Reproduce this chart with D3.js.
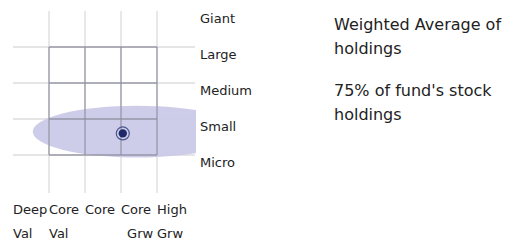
<!DOCTYPE html>
<html><head><meta charset="utf-8">
<script src="https://cdn.jsdelivr.net/npm/d3@7"></script>
<style>body{margin:0;background:#fff;} svg{display:block;}</style>
</head><body><div id="chart"></div>
<script>
// Data
const sizeLabels = ["Giant","Large","Medium","Small","Micro"];
const styleTopLabels = ["Deep","Core","Core","Core","High"];
const styleBottomLabels = ["Val","Val","","Grw","Grw"];
const styleBottomOffset = [0,0,0,0.17,0];   // column offsets of the wrapped words
const weightedAvg = {style: 3.05, size: 3.4};       // grid units
const zone75 = {style: 3.45, size: 3.35, styleHalf: 2.9, sizeHalf: 0.72};
const legendTexts = [["Weighted Average of","holdings"],["75% of fund's stock","holdings"]];

const W = 517, H = 240;
const svg = d3.select("#chart").append("svg").attr("width", W).attr("height", H);
const font = "DejaVu Sans, Verdana, sans-serif";

const x = d3.scaleLinear().domain([0,5]).range([13,193]);
const y = d3.scaleLinear().domain([0,5]).range([11,191]);

svg.append("defs").append("clipPath").attr("id","clip")
  .append("rect").attr("x", x(0)).attr("y", y(0)).attr("width", x(5)-x(0)+3).attr("height", y(5)-y(0)+2);

// light grid lines
const g = svg.append("g");
[1,2,3,4].forEach(i=>{
  g.append("line").attr("x1",x(i)).attr("x2",x(i)).attr("y1",y(0)).attr("y2",y(5)+2)
    .attr("stroke","#dcdcdc").attr("stroke-width",1.3);
  g.append("line").attr("y1",y(i)).attr("y2",y(i)).attr("x1",x(0)).attr("x2",x(5)+2)
    .attr("stroke","#dcdcdc").attr("stroke-width",1.3);
});

// ellipse
g.append("ellipse").attr("clip-path","url(#clip)")
  .attr("cx", x(zone75.style)).attr("cy", y(zone75.size))
  .attr("rx", x(zone75.styleHalf)-x(0)).attr("ry", y(zone75.sizeHalf)-y(0))
  .attr("fill","#cacae8").attr("opacity",0.95);

// dark box lines (3x3)
[1,2,3,4].forEach(i=>{
  g.append("line").attr("x1",x(i)).attr("x2",x(i)).attr("y1",y(1)).attr("y2",y(4))
    .attr("stroke","#8f8f9f").attr("stroke-width",1.3).attr("opacity",0.85);
  g.append("line").attr("y1",y(i)).attr("y2",y(i)).attr("x1",x(1)).attr("x2",x(4))
    .attr("stroke","#8f8f9f").attr("stroke-width",1.3).attr("opacity",0.85);
});

// weighted average point
g.append("circle").attr("cx",x(weightedAvg.style)).attr("cy",y(weightedAvg.size)).attr("r",6.5)
  .attr("fill","none").attr("stroke","#4b5590").attr("stroke-width",1.2);
g.append("circle").attr("cx",x(weightedAvg.style)).attr("cy",y(weightedAvg.size)).attr("r",4.2)
  .attr("fill","#1e2a68");

// size labels
svg.selectAll("text.size").data(sizeLabels).join("text")
  .attr("x", x(5)+7).attr("y", (d,i)=>y(i)+7).attr("dy","0.35em")
  .attr("font-family",font).attr("font-size",13).attr("fill","#222").text(d=>d);

// style labels
svg.selectAll("text.st").data(styleTopLabels).join("text")
  .attr("x",(d,i)=>x(i)).attr("y",209).attr("dy","0.35em")
  .attr("font-family",font).attr("font-size",13).attr("fill","#222").text(d=>d);
svg.selectAll("text.sb").data(styleBottomLabels).join("text")
  .attr("x",(d,i)=>x(i+styleBottomOffset[i]))
  .attr("y",233).attr("dy","0.35em")
  .attr("font-family",font).attr("font-size",13).attr("fill","#222").text(d=>d);

// legend texts
const ly = [24, 90];
legendTexts.forEach((lines,k)=>{
  lines.forEach((t,j)=>{
    svg.append("text").attr("x",334).attr("y",ly[k]+j*24).attr("dy","0.35em")
      .attr("font-family",font).attr("font-size",16).attr("fill","#222").text(t);
  });
});
</script></body></html>
